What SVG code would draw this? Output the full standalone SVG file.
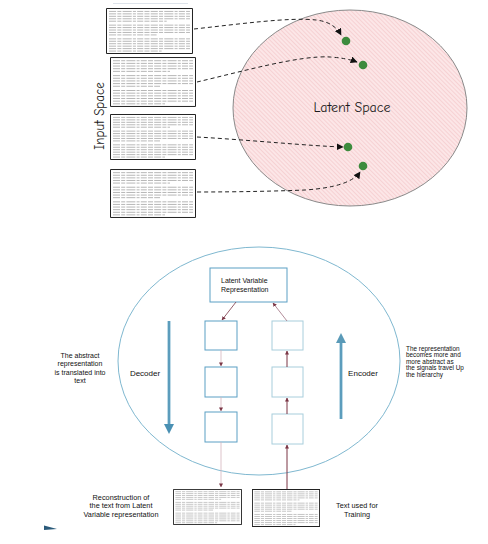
<svg xmlns="http://www.w3.org/2000/svg" xmlns:xlink="http://www.w3.org/1999/xlink" width="488" height="544" viewBox="0 0 488 544">
<style>
.dash{fill:none;stroke:#222;stroke-width:1;stroke-dasharray:4 3}
.hand{font-family:"Comic Neue","Open Sans","DejaVu Sans",sans-serif;fill:#1a1a1a}
.lab{font-family:"Liberation Sans",Arial,sans-serif;fill:#111}
.box{fill:#fff;stroke:#5b9fc4;stroke-width:1}
.boxr{fill:#fff;stroke:#a8cedc;stroke-width:1}
.dot{fill:#3d8b3d}
.tl{stroke:#a6a6a6;stroke-width:0.8;stroke-dasharray:7 1.2 4 1.2 9 1.2 3 1.2 6 1.2 5 1.2}
</style>
<defs>
<pattern id="hatch" patternUnits="userSpaceOnUse" width="3" height="3" patternTransform="rotate(-45)">
<rect width="3" height="3" fill="#fce6e7"/>
<line x1="0" y1="0" x2="0" y2="3" stroke="#eba8ae" stroke-width="0.7"/>
</pattern>
<marker id="ah" viewBox="0 0 10 10" refX="9" refY="5" markerWidth="7" markerHeight="7" markerUnits="userSpaceOnUse" orient="auto"><path d="M0,0 L10,5 L0,10 Z" fill="#111"/></marker>
<marker id="am" viewBox="0 0 10 10" refX="9" refY="5" markerWidth="4" markerHeight="4" markerUnits="userSpaceOnUse" orient="auto"><path d="M0,0 L10,5 L0,10 Z" fill="#7a3545"/></marker>
<linearGradient id="bl" x1="0" y1="0" x2="1" y2="0"><stop offset="0" stop-color="#7fb6cf"/><stop offset="0.5" stop-color="#4a90b3"/><stop offset="1" stop-color="#7fb6cf"/></linearGradient>
<symbol id="doc" viewBox="0 0 86 47" preserveAspectRatio="none">
<rect x="0.5" y="0.5" width="85" height="46" fill="#fff" stroke="#222" stroke-width="1" vector-effect="non-scaling-stroke"/>
<g class="tl">
<line x1="3" y1="3.5" x2="83" y2="3.5"/><line x1="3" y1="6" x2="83" y2="6"/><line x1="3" y1="8.5" x2="83" y2="8.5"/><line x1="3" y1="11" x2="83" y2="11"/><line x1="3" y1="13.5" x2="60" y2="13.5"/>
<line x1="3" y1="17.5" x2="83" y2="17.5"/><line x1="3" y1="20" x2="83" y2="20"/><line x1="3" y1="22.5" x2="83" y2="22.5"/><line x1="3" y1="25" x2="83" y2="25"/><line x1="3" y1="27.5" x2="50" y2="27.5"/>
<line x1="3" y1="31.5" x2="83" y2="31.5"/><line x1="3" y1="34" x2="83" y2="34"/><line x1="3" y1="36.5" x2="83" y2="36.5"/><line x1="3" y1="39" x2="83" y2="39"/><line x1="3" y1="41.5" x2="83" y2="41.5"/><line x1="3" y1="44" x2="55" y2="44"/>
</g>
</symbol>
</defs>
<rect width="488" height="544" fill="#fff"/>
<line x1="113" y1="3.5" x2="188" y2="3.5" stroke="#dde3ea" stroke-width="1"/>

<g id="latent-space">
<ellipse cx="350" cy="108" rx="117" ry="98" fill="url(#hatch)" stroke="#8a8a8a" stroke-width="1"/>
<text class="hand" x="352" y="112" font-size="14" text-anchor="middle">Latent Space</text>
</g>
<text id="input-space" class="hand" transform="translate(104,116) rotate(-90)" font-size="13" text-anchor="middle">Input Space</text>

<g id="doc1"><use xlink:href="#doc" x="106" y="8" width="87" height="46"/></g>
<g id="doc2"><use xlink:href="#doc" x="110" y="57" width="86" height="50"/></g>
<g id="doc3"><use xlink:href="#doc" x="110" y="114" width="86" height="46"/></g>
<g id="doc4"><use xlink:href="#doc" x="110" y="169" width="86" height="49"/></g>

<g id="points">
<circle class="dot" cx="346" cy="41" r="4.3"/>
<circle class="dot" cx="363" cy="65" r="4.3"/>
<circle class="dot" cx="348" cy="147" r="4.3"/>
<circle class="dot" cx="363" cy="166" r="4.3"/>
</g>

<g id="connectors-top">
<path class="dash" d="M194,29 C240,24 290,17 316,20 Q334,22 341,35" marker-end="url(#ah)"/>
<path class="dash" d="M197,82 C240,72 300,55 330,57 Q346,58 357,62" marker-end="url(#ah)"/>
<path class="dash" d="M197,137 C250,140 310,146 343,147" marker-end="url(#ah)"/>
<path class="dash" d="M197,192 C240,192 280,191 305,190 Q350,187 360,172" marker-end="url(#ah)"/>
</g>

<g id="autoencoder">
<ellipse cx="259" cy="361" rx="141" ry="114" fill="#fff" stroke="#7fb8d0" stroke-width="1"/>
</g>

<g id="lvr">
<rect class="box" x="210" y="268" width="77" height="34"/>
<text class="lab" x="221" y="283" font-size="7">Latent Variable</text>
<text class="lab" x="221" y="292" font-size="7">Representation</text>
</g>
<g id="dec1"><rect class="box" x="205" y="321" width="32" height="29"/></g>
<g id="dec2"><rect class="box" x="205" y="367" width="32" height="30"/></g>
<g id="dec3"><rect class="box" x="205" y="412" width="32" height="30"/></g>
<g id="enc1"><rect class="boxr" x="272" y="321" width="31" height="29"/></g>
<g id="enc2"><rect class="boxr" x="272" y="367" width="31" height="30"/></g>
<g id="enc3"><rect class="boxr" x="272" y="414" width="31" height="30"/></g>

<g id="docout"><use xlink:href="#doc" x="173" y="489" width="69" height="36"/></g>
<g id="docin"><use xlink:href="#doc" x="252" y="489" width="68" height="38"/></g>

<g id="connectors-bottom">
<line x1="236" y1="302" x2="222" y2="320" stroke="#7a3545" stroke-width="0.8" marker-end="url(#am)"/>
<line x1="287" y1="321" x2="273" y2="303" stroke="#a07080" stroke-width="0.8" marker-end="url(#am)"/>
<line x1="221" y1="350" x2="221" y2="366" stroke="#d4b4bc" stroke-width="0.8" marker-end="url(#am)"/>
<line x1="221" y1="397" x2="221" y2="411" stroke="#d4b4bc" stroke-width="0.8" marker-end="url(#am)"/>
<line x1="221" y1="442" x2="221" y2="487" stroke="#d4b4bc" stroke-width="0.8" marker-end="url(#am)"/>
<line x1="287" y1="489" x2="287" y2="445" stroke="#7a3545" stroke-width="1" marker-end="url(#am)"/>
<line x1="287" y1="414" x2="287" y2="398" stroke="#7a3545" stroke-width="1" marker-end="url(#am)"/>
<line x1="287" y1="367" x2="287" y2="351" stroke="#7a3545" stroke-width="1" marker-end="url(#am)"/>
</g>

<g id="decoder-arrow">
<rect x="167.5" y="321" width="3" height="104" fill="url(#bl)"/>
<path d="M164,424 L174,424 L169,434 Z" fill="#4a90b3"/>
</g>
<g id="encoder-arrow">
<rect x="339.5" y="342" width="3" height="77" fill="url(#bl)"/>
<path d="M336,343 L346,343 L341,333 Z" fill="#5a9ab8"/>
</g>

<text class="lab" x="145" y="376" font-size="8" text-anchor="middle">Decoder</text>
<text class="lab" x="363" y="376" font-size="8" text-anchor="middle">Encoder</text>

<g class="lab" font-size="7" text-anchor="middle">
<text x="80" y="357.5">The abstract</text>
<text x="80" y="366">representation</text>
<text x="80" y="374.5">is translated into</text>
<text x="80" y="383">text</text>
</g>
<g class="lab" font-size="6.4">
<text x="406" y="350.5">The representation</text>
<text x="406" y="357">becomes more and</text>
<text x="406" y="363.5">more abstract as</text>
<text x="406" y="370">the signals travel Up</text>
<text x="406" y="376.5">the hierarchy</text>
</g>
<g class="lab" font-size="7.3" text-anchor="middle">
<text x="121" y="499.5">Reconstruction of</text>
<text x="121" y="508">the text from Latent</text>
<text x="121" y="516.5">Variable representation</text>
</g>
<g class="lab" font-size="7.3" text-anchor="middle">
<text x="357" y="508">Text used for</text>
<text x="357" y="516.5">Training</text>
</g>
<path d="M44,525.5 L57,529 L44,530 Z" fill="#2a5a7a"/>
</svg>
